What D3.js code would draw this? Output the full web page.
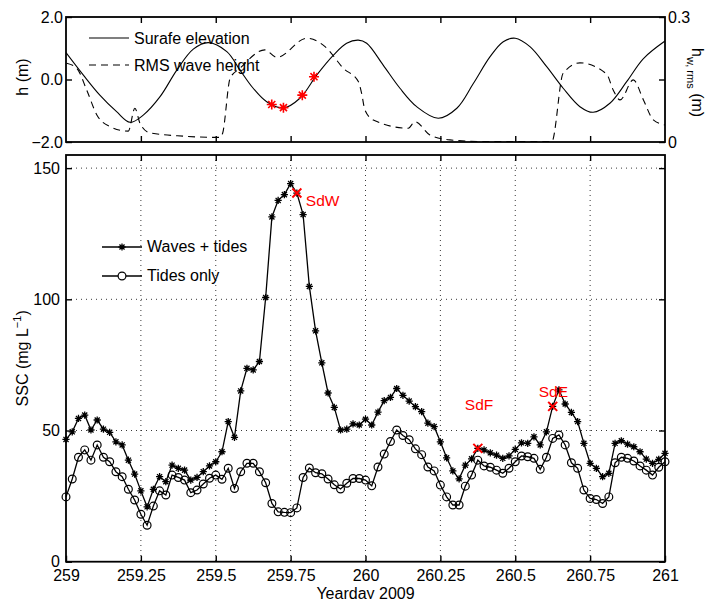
<!DOCTYPE html>
<html>
<head>
<meta charset="utf-8">
<script src="https://cdnjs.cloudflare.com/ajax/libs/d3/7.8.5/d3.min.js"></script>
<style>
  body { margin: 0; background: #fff; }
  svg { font-family: "Liberation Sans", Arial, Helvetica, sans-serif; }
  .axis text { font-size: 16px; fill: #000; }
  .axis line { stroke: #000; stroke-width: 1.4; }
</style>
</head>
<body>
<svg width="707" height="599"></svg>
<script>
//SSC is sampled every half hour from yearday 259 to 261 (97 samples)
let sampleStart = 259;
let sampleStep = 0.5 / 24; //days
//Waves + tides run (mg/L)
let wavesTides = [46.6, 49.5, 54.6, 55.9, 50.2, 54.0, 50.5, 49.3, 45.7, 44.5,
  38.7, 33.4, 27.0, 20.9, 27.6, 32.4, 30.5, 36.8, 35.6, 34.9,
  31.1, 32.1, 34.3, 36.5, 38.1, 41.9, 53.4, 47.4, 65.1, 73.7,
  73.1, 76.3, 100.7, 131.4, 137.7, 139.9, 144.1, 140.5, 132.3, 104.9,
  88.0, 75.8, 64.3, 58.8, 50.2, 50.5, 52.5, 52.1, 54.3, 52.1,
  57.0, 61.4, 62.6, 66.0, 63.4, 61.2, 59.1, 57.2, 52.8, 51.5,
  45.7, 39.6, 34.6, 31.6, 36.8, 39.2, 43.2, 42.6, 41.5, 40.6,
  39.4, 40.3, 42.8, 45.3, 45.1, 47.6, 44.5, 49.5, 59.2, 65.5,
  60.1, 56.9, 53.4, 45.1, 37.5, 35.6, 32.4, 33.7, 45.1, 46.1,
  44.8, 43.8, 41.9, 39.1, 37.5, 39.0, 41.3];
//Tides only run (mg/L)
let tidesOnly = [24.7, 31.5, 39.8, 42.6, 38.7, 44.5, 39.8, 38.1, 34.3, 32.4,
  27.6, 23.5, 18.1, 13.9, 21.2, 27.0, 25.4, 33.0, 32.1, 31.1,
  26.3, 27.3, 29.6, 31.8, 33.0, 31.4, 35.6, 27.9, 34.3, 37.5,
  37.5, 34.3, 30.1, 22.2, 19.0, 18.8, 18.7, 20.5, 32.1, 35.7,
  33.9, 33.5, 31.5, 29.3, 27.7, 29.9, 31.7, 31.7, 31.1, 28.9,
  36.1, 41.0, 45.8, 50.2, 48.1, 46.5, 43.0, 40.8, 36.1, 34.6,
  29.2, 24.7, 21.6, 21.6, 28.8, 33.0, 38.7, 36.5, 36.0, 34.9,
  33.7, 35.6, 38.1, 40.3, 40.0, 39.4, 35.2, 39.8, 47.0, 48.3,
  44.5, 37.7, 35.6, 27.3, 24.1, 23.7, 22.2, 24.7, 37.7, 39.8,
  39.4, 38.4, 36.5, 34.9, 33.0, 36.0, 38.1];

//Surface elevation (m)
let elevDay = [259.0, 259.058, 259.113, 259.169, 259.214, 259.258, 259.314, 259.37, 259.425, 259.475,
  259.537, 259.581, 259.625, 259.67, 259.726, 259.781, 259.837, 259.893, 259.937, 259.976,
  260.004, 260.059, 260.115, 260.171, 260.243, 260.305, 260.36, 260.416, 260.46, 260.5,
  260.549, 260.605, 260.66, 260.716, 260.76, 260.816, 260.872, 260.928, 261.0];
let elevH = [0.86, 0.14, -0.5, -1.03, -1.37, -1.14, -0.55, 0.30, 0.97, 1.18,
  0.89, 0.30, -0.28, -0.71, -0.91, -0.60, 0.14, 0.78, 1.16, 1.26,
  1.16, 0.46, -0.28, -0.87, -1.24, -0.92, -0.13, 0.73, 1.21, 1.32,
  1.05, 0.41, -0.28, -0.87, -1.05, -0.76, -0.07, 0.67, 1.23];

//RMS wave height (m), right axis of the top panel
let waveDay = [259.002, 259.036, 259.069, 259.103, 259.147, 259.208, 259.230, 259.247, 259.280, 259.392,
  259.514, 259.523, 259.548, 259.581, 259.664, 259.704, 259.804, 259.865, 259.926, 259.976,
  259.987, 259.998, 260.026, 260.143, 260.165, 260.215, 260.282, 260.393, 260.622, 260.660,
  260.716, 260.805, 260.827, 260.850, 260.894, 260.928, 260.961, 261.0];
let waveH = [0.189, 0.177, 0.125, 0.065, 0.037, 0.026, 0.081, 0.045, 0.022, 0.014,
  0.011, 0.021, 0.153, 0.177, 0.221, 0.203, 0.249, 0.229, 0.177, 0.145,
  0.117, 0.077, 0.053, 0.033, 0.049, 0.017, 0.005, 0.001, 0.001, 0.165,
  0.190, 0.163, 0.125, 0.101, 0.149, 0.101, 0.053, 0.041];

//Red stars on the surface elevation
let starDay = [259.687, 259.726, 259.789, 259.828];
let starH = [-0.80, -0.90, -0.50, 0.09];

//Sampling sites marked on the SSC panel
let siteNames = ["SdW", "SdF", "SdE"];
let siteDay = [259.7708, 260.375, 260.625];
let siteSSC = [140.5, 43.2, 59.2];

//Ticks
let xTicks = [259, 259.25, 259.5, 259.75, 260, 260.25, 260.5, 260.75, 261];
let xTickLabels = ["259", "259.25", "259.5", "259.75", "260", "260.25", "260.5", "260.75", "261"];
let sscTicks = [0, 50, 100, 150];
let hTicks = [-2, 0, 2];
let hwTicks = [0, 0.15, 0.3];
let hwTickLabels = ["0", "", "0.3"];

let svg = d3.select("svg");

//Panel boxes
let left = 66, right = 665;
let top1 = 17, bottom1 = 142;
let top2 = 155, bottom2 = 561.7;

let x = d3.scaleLinear().domain([259, 261]).range([left, right]);
let yH = d3.scaleLinear().domain([-2, 2]).range([bottom1, top1]);
let yHw = d3.scaleLinear().domain([0, 0.3]).range([bottom1, top1]);
let y = d3.scaleLinear().domain([0, 155]).range([bottom2, top2]);

//Asterisk marker like matlab '*'
function asterisk(s) {
  let a = s * 0.7071;
  return "M" + (-s) + ",0L" + s + ",0M0," + (-s) + "L0," + s +
    "M" + (-a) + "," + (-a) + "L" + a + "," + a + "M" + (-a) + "," + a + "L" + a + "," + (-a);
}
function cross(s) {
  return "M" + (-s) + "," + (-s) + "L" + s + "," + s + "M" + (-s) + "," + s + "L" + s + "," + (-s);
}

svg.append("defs").append("clipPath").attr("id", "clipTop")
  .append("rect").attr("x", left).attr("y", top1).attr("width", right - left).attr("height", bottom1 - top1);

// ---------------- TOP PANEL ----------------
let topPanel = svg.append("g");

topPanel.append("path") //Surface elevation
  .datum(elevDay.map((d, i) => [d, elevH[i]]))
  .attr("clip-path", "url(#clipTop)")
  .attr("fill", "none").attr("stroke", "#000").attr("stroke-width", 1.1)
  .attr("d", d3.line().x(d => x(d[0])).y(d => yH(d[1])).curve(d3.curveCatmullRom));

topPanel.append("path") //RMS wave height
  .datum(waveDay.map((d, i) => [d, waveH[i]]))
  .attr("clip-path", "url(#clipTop)")
  .attr("fill", "none").attr("stroke", "#000").attr("stroke-width", 1.1)
  .attr("stroke-dasharray", "7,5")
  .attr("d", d3.line().x(d => x(d[0])).y(d => yHw(d[1])).curve(d3.curveMonotoneX));

topPanel.selectAll(".redstar")
  .data(starDay)
  .enter().append("path")
  .attr("class", "redstar")
  .attr("transform", (d, i) => "translate(" + x(d) + "," + yH(starH[i]) + ")")
  .attr("d", asterisk(5))
  .attr("fill", "none").attr("stroke", "#ff0000").attr("stroke-width", 1.6);

//Axes of the top panel, ticks pointing inwards
topPanel.append("g").attr("class", "axis")
  .attr("transform", "translate(0," + bottom1 + ")")
  .call(d3.axisBottom(x).tickValues(xTicks.slice(1, -1)).tickSize(-6).tickSizeOuter(0).tickFormat(""));
topPanel.append("g").attr("class", "axis")
  .attr("transform", "translate(0," + top1 + ")")
  .call(d3.axisTop(x).tickValues(xTicks.slice(1, -1)).tickSize(-6).tickSizeOuter(0).tickFormat(""));
topPanel.append("g").attr("class", "axis")
  .attr("transform", "translate(" + left + ",0)")
  .call(d3.axisLeft(yH).tickValues(hTicks).tickSize(-6).tickSizeOuter(0).tickPadding(3));
topPanel.append("g").attr("class", "axis")
  .attr("transform", "translate(" + right + ",0)")
  .call(d3.axisRight(yHw).tickValues(hwTicks).tickSize(-6).tickSizeOuter(0).tickPadding(3)
    .tickFormat((d, i) => hwTickLabels[i]));
topPanel.selectAll(".axis .domain").remove();

topPanel.append("rect")
  .attr("x", left).attr("y", top1).attr("width", right - left).attr("height", bottom1 - top1)
  .attr("fill", "none").attr("stroke", "#000").attr("stroke-width", 1.8);

//Legend of the top panel
topPanel.append("line").attr("x1", 89).attr("x2", 129).attr("y1", 38).attr("y2", 38)
  .attr("stroke", "#000").attr("stroke-width", 1.1);
topPanel.append("line").attr("x1", 89).attr("x2", 129).attr("y1", 65).attr("y2", 65)
  .attr("stroke", "#000").attr("stroke-width", 1.1).attr("stroke-dasharray", "7,5");
topPanel.append("text").attr("x", 134).attr("y", 44).attr("font-size", 16).text("Surafe elevation");
topPanel.append("text").attr("x", 134).attr("y", 70.5).attr("font-size", 16).text("RMS wave height");

//Axis labels
topPanel.append("text")
  .attr("transform", "translate(28,77) rotate(-90)")
  .attr("text-anchor", "middle").attr("font-size", 16).text("h (m)");
let hwLabel = topPanel.append("text")
  .attr("transform", "translate(692,48) rotate(90)")
  .attr("font-size", 16);
hwLabel.append("tspan").text("h");
hwLabel.append("tspan").attr("font-size", 11).attr("dy", 5).text("w, rms");
hwLabel.append("tspan").attr("dy", -5).text(" (m)");

// ---------------- BOTTOM PANEL ----------------
let bottomPanel = svg.append("g");

//Dotted grid
bottomPanel.selectAll(".gridx")
  .data(xTicks.slice(1, -1))
  .enter().append("line")
  .attr("x1", d => x(d)).attr("x2", d => x(d))
  .attr("y1", top2).attr("y2", bottom2)
  .attr("stroke", "#222").attr("stroke-width", 0.9).attr("stroke-dasharray", "1,4");
bottomPanel.selectAll(".gridy")
  .data(sscTicks.slice(1))
  .enter().append("line")
  .attr("x1", left).attr("x2", right)
  .attr("y1", d => y(d)).attr("y2", d => y(d))
  .attr("stroke", "#222").attr("stroke-width", 0.9).attr("stroke-dasharray", "1,4");

let sscLine = d3.line().x((d, i) => x(sampleStart + i * sampleStep)).y(d => y(d));

bottomPanel.append("path").datum(tidesOnly)
  .attr("fill", "none").attr("stroke", "#000").attr("stroke-width", 1.3).attr("d", sscLine);
bottomPanel.append("path").datum(wavesTides)
  .attr("fill", "none").attr("stroke", "#000").attr("stroke-width", 1.3).attr("d", sscLine);

bottomPanel.selectAll(".circ")
  .data(tidesOnly)
  .enter().append("circle")
  .attr("cx", (d, i) => x(sampleStart + i * sampleStep))
  .attr("cy", d => y(d))
  .attr("r", 3.9)
  .attr("fill", "none").attr("stroke", "#000").attr("stroke-width", 1.2);

bottomPanel.selectAll(".star")
  .data(wavesTides)
  .enter().append("path")
  .attr("transform", (d, i) => "translate(" + x(sampleStart + i * sampleStep) + "," + y(d) + ")")
  .attr("d", asterisk(3.6))
  .attr("fill", "none").attr("stroke", "#000").attr("stroke-width", 1.3);

//Site markers and their names
let labelDx = [9, -13, -14];
let labelDy = [13, -38, -9];
bottomPanel.selectAll(".site")
  .data(siteDay)
  .enter().append("path")
  .attr("transform", (d, i) => "translate(" + x(d) + "," + y(siteSSC[i]) + ")")
  .attr("d", cross(4.5))
  .attr("fill", "none").attr("stroke", "#ff0000").attr("stroke-width", 2);
bottomPanel.selectAll(".sitename")
  .data(siteDay)
  .enter().append("text")
  .attr("x", (d, i) => x(d) + labelDx[i])
  .attr("y", (d, i) => y(siteSSC[i]) + labelDy[i])
  .attr("fill", "#ff0000").attr("font-size", 15.5)
  .text((d, i) => siteNames[i]);

//Axes of the bottom panel
bottomPanel.append("g").attr("class", "axis")
  .attr("transform", "translate(0," + bottom2 + ")")
  .call(d3.axisBottom(x).tickValues(xTicks).tickSize(-6).tickSizeOuter(0).tickPadding(8)
    .tickFormat((d, i) => xTickLabels[i]));
bottomPanel.append("g").attr("class", "axis")
  .attr("transform", "translate(0," + top2 + ")")
  .call(d3.axisTop(x).tickValues(xTicks.slice(1, -1)).tickSize(-6).tickSizeOuter(0).tickFormat(""));
bottomPanel.append("g").attr("class", "axis")
  .attr("transform", "translate(" + left + ",0)")
  .call(d3.axisLeft(y).tickValues(sscTicks).tickSize(-6).tickSizeOuter(0).tickPadding(6));
bottomPanel.append("g").attr("class", "axis")
  .attr("transform", "translate(" + right + ",0)")
  .call(d3.axisRight(y).tickValues(sscTicks).tickSize(-6).tickSizeOuter(0).tickFormat(""));
bottomPanel.selectAll(".axis .domain").remove();

bottomPanel.append("rect")
  .attr("x", left).attr("y", top2).attr("width", right - left).attr("height", bottom2 - top2)
  .attr("fill", "none").attr("stroke", "#000").attr("stroke-width", 1.8);

//Legend of the bottom panel
bottomPanel.append("line").attr("x1", 102).attr("x2", 142).attr("y1", 247).attr("y2", 247)
  .attr("stroke", "#000").attr("stroke-width", 1.3);
bottomPanel.append("path").attr("transform", "translate(122,247)").attr("d", asterisk(3.6))
  .attr("fill", "none").attr("stroke", "#000").attr("stroke-width", 1.3);
bottomPanel.append("line").attr("x1", 102).attr("x2", 142).attr("y1", 276).attr("y2", 276)
  .attr("stroke", "#000").attr("stroke-width", 1.3);
bottomPanel.append("circle").attr("cx", 122).attr("cy", 276).attr("r", 3.9)
  .attr("fill", "#fff").attr("stroke", "#000").attr("stroke-width", 1.2);
bottomPanel.append("text").attr("x", 147).attr("y", 252).attr("font-size", 16).text("Waves + tides");
bottomPanel.append("text").attr("x", 147).attr("y", 281).attr("font-size", 16).text("Tides only");

//Axis labels
let sscLabel = bottomPanel.append("text")
  .attr("transform", "translate(28," + ((top2 + bottom2) / 2) + ") rotate(-90)")
  .attr("text-anchor", "middle").attr("font-size", 16);
sscLabel.append("tspan").text("SSC (mg L");
sscLabel.append("tspan").attr("font-size", 11).attr("dy", -7).text("−1");
sscLabel.append("tspan").attr("dy", 7).text(")");
bottomPanel.append("text")
  .attr("x", (left + right) / 2).attr("y", 599)
  .attr("text-anchor", "middle").attr("font-size", 16).text("Yearday 2009");
</script>
</body>
</html>
